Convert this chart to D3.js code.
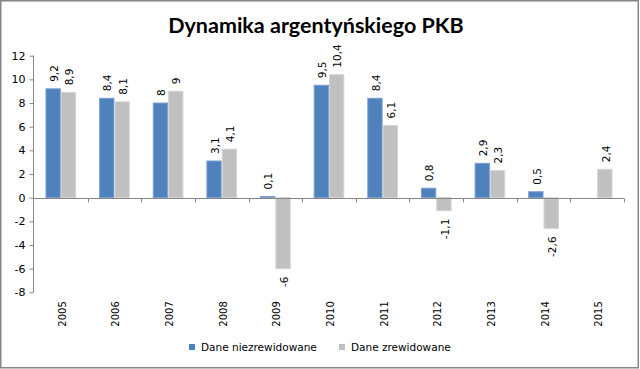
<!DOCTYPE html>
<html><head><meta charset="utf-8">
<script src="https://cdn.jsdelivr.net/npm/d3@7"></script>
<style>body{margin:0;background:#fff}svg{display:block}</style>
</head><body>
<svg id="c" width="640" height="369"></svg>
<script>
const years = ["2005","2006","2007","2008","2009","2010","2011","2012","2013","2014","2015"];
const seriesNames = ["Dane niezrewidowane","Dane zrewidowane"];
const unrevised = [9.2, 8.4, 8, 3.1, 0.1, 9.5, 8.4, 0.8, 2.9, 0.5, null];
const revised = [8.9, 8.1, 9, 4.1, -6, 10.4, 6.1, -1.1, 2.3, -2.6, 2.4];
const yTicks = [-8,-6,-4,-2,0,2,4,6,8,10,12];
const colors = ["#4F81BD", "#C0C0C0"];
const strokes = ["#7A9FD0", "#D4D4D4"];
const title = "Dynamika argentyńskiego PKB";

const svg = d3.select("#c");
svg.append("rect").attr("x",0.75).attr("y",0.75).attr("width",637.5).attr("height",367)
  .attr("fill","#fff").attr("stroke","#868686").attr("stroke-width",1.5);

svg.append("text").attr("x",316).attr("y",33).attr("text-anchor","middle")
  .attr("font-family","Lato, Carlito, sans-serif").attr("font-weight","bold").attr("font-size",21.5)
  .attr("fill","#000").text(title);

const x = d3.scaleBand().domain(years).range([34, 624]).padding(0);
const x1 = d3.scaleBand().domain([0,1]).range([0, x.bandwidth()]).paddingInner(0).paddingOuter(0.75);
const y = d3.scaleLinear().domain([-8,12]).range([292.3, 55.7]);

// y axis
const yAxis = d3.axisLeft(y).tickValues(yTicks).tickSize(4).tickPadding(4).tickFormat(d=>String(d));
const gy = svg.append("g").attr("transform","translate(33.5,0)").call(yAxis);
gy.select(".domain").attr("stroke","#868686").attr("d","M0,"+y(-8)+"V"+y(12));
gy.selectAll(".tick line").attr("stroke","#868686");
gy.selectAll(".tick text").attr("font-family","DejaVu Sans, Verdana, sans-serif").attr("font-size",11).attr("fill","#000");

const data = [unrevised, revised];

// bars
data.forEach((vals, s) => {
  svg.append("g").selectAll("rect").data(years.map((yr,i)=>({yr, v: vals[i]})).filter(d=>d.v!==null))
    .join("rect")
    .attr("x", d => x(d.yr) + x1(s) + 0.5)
    .attr("width", x1.bandwidth() - 1)
    .attr("y", d => y(Math.max(0,d.v)))
    .attr("height", d => Math.abs(y(d.v) - y(0)))
    .attr("fill", colors[s]).attr("stroke", strokes[s]).attr("stroke-width",1);
});

// x axis line at zero
const gx = svg.append("g").attr("transform","translate(0,"+Math.round(y(0))+".5)");
gx.append("line").attr("x1",34).attr("x2",624).attr("stroke","#868686");
const bounds = years.map(yr=>x(yr)).concat([x(years[years.length-1])+x.bandwidth()]);
gx.selectAll("line.tk").data(bounds.slice(1)).join("line").attr("class","tk")
  .attr("x1",d=>Math.round(d)+0.5).attr("x2",d=>Math.round(d)+0.5).attr("y1",0).attr("y2",4).attr("stroke","#868686");

// year labels
svg.append("g").selectAll("text").data(years).join("text")
  .attr("transform", d => "translate(" + (x(d)+x.bandwidth()/2+1.5) + ",326.7) rotate(-90)")
  .attr("text-anchor","start").attr("dy","0.35em")
  .attr("font-family","DejaVu Sans, Verdana, sans-serif").attr("font-size",10).attr("fill","#000")
  .text(d=>d);

// value labels
const fmt = v => String(v).replace(".", ",");
data.forEach((vals, s) => {
  svg.append("g").selectAll("text").data(years.map((yr,i)=>({yr, v: vals[i]})).filter(d=>d.v!==null))
    .join("text")
    .attr("transform", d => {
      const cx = x(d.yr) + x1(s) + x1.bandwidth()/2 + 1;
      const py = d.v >= 0 ? y(d.v) - 7 : y(d.v) + 8;
      return "translate(" + cx + "," + py + ") rotate(-90)";
    })
    .attr("text-anchor", d => d.v >= 0 ? "start" : "end")
    .attr("dy","0.35em")
    .attr("font-family","DejaVu Sans, Verdana, sans-serif").attr("font-size",10.5).attr("fill","#000")
    .text(d => fmt(d.v));
});

// legend
const leg = svg.append("g");
const legX = [189, 339];
seriesNames.forEach((n, s) => {
  leg.append("rect").attr("x", legX[s]).attr("y", 344).attr("width",6).attr("height",6).attr("fill",colors[s]);
  leg.append("text").attr("x", legX[s]+12).attr("y", 351)
    .attr("font-family","DejaVu Sans, Verdana, sans-serif").attr("font-size",10.5).attr("fill","#000").text(n);
});
</script>
</body></html>
